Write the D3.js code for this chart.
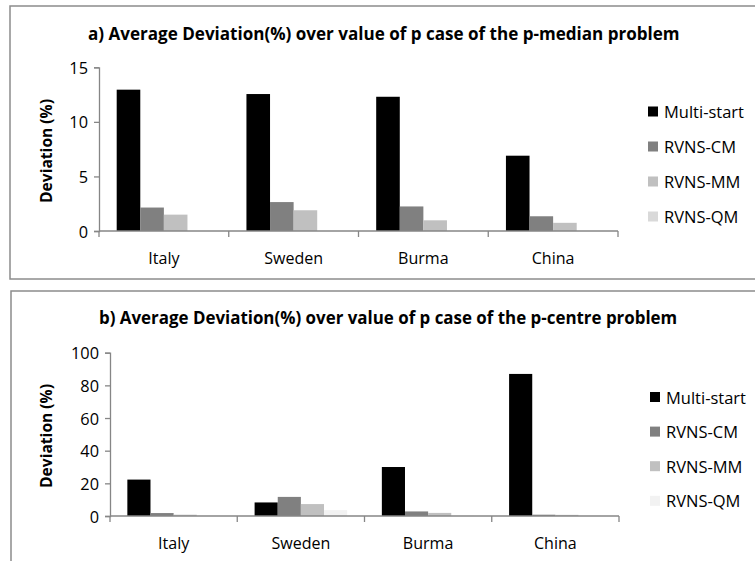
<!DOCTYPE html>
<html><head><meta charset="utf-8">
<script src="https://cdn.jsdelivr.net/npm/d3@7"></script>
<style>body{margin:0;background:#fff}svg{display:block}</style>
</head><body><svg id="c" width="755" height="561"></svg>
<script>
const categories = ["Italy", "Sweden", "Burma", "China"];
const seriesNames = ["Multi-start", "RVNS-CM", "RVNS-MM", "RVNS-QM"];
const medianValues = [
  [12.95, 12.55, 12.3, 6.9],   // Multi-start
  [2.15, 2.65, 2.25, 1.35],    // RVNS-CM
  [1.5, 1.9, 0.98, 0.75],      // RVNS-MM
  [0, 0, 0, 0]                 // RVNS-QM
];
const centreValues = [
  [22.3, 8.3, 30.0, 87.0],
  [1.8, 11.7, 2.8, 0.8],
  [0.8, 7.3, 1.9, 0.7],
  [0.2, 3.6, 0.2, 0.2]
];
const medianTicks = [0, 5, 10, 15];
const centreTicks = [0, 20, 40, 60, 80, 100];
const titleA = "a) Average Deviation(%) over value of p case of the p-median problem";
const titleB = "b) Average Deviation(%) over value of p case of the p-centre problem";

const svg = d3.select("#c");
const font = "'Open Sans', sans-serif";

function fit(str, weight, target) {
  const t = svg.append("text").attr("font-family", font).attr("font-weight", weight)
    .attr("font-size", 20).text(str);
  const w = t.node().getComputedTextLength();
  t.remove();
  return 20 * target / w;
}
const legSize = fit("Multi-start", "normal", 80);
const catSize = fit("Sweden", "normal", 59);
const tickSize = fit("100", "normal", 28);
const ylabSize = fit("Deviation  (%)", "bold", 104);

function panel(o) {
  const g = svg.append("g");
  g.append("rect").attr("x", o.box[0]).attr("y", o.box[1]).attr("width", o.box[2]).attr("height", o.box[3])
    .attr("fill", "#fff").attr("stroke", "#8c8c8c").attr("stroke-width", 1.5);
  const x = d3.scaleBand().domain(categories).range([o.x0, o.x1]).paddingInner(0).paddingOuter(0);
  const y = d3.scaleLinear().domain([0, o.max]).range([o.y0, o.y1]);
  const bw = x.bandwidth() / 5.5;
  const xs = d3.scaleBand().domain(seriesNames).range([bw * 0.75, bw * 4.75]);
  const series = seriesNames.map((n, i) => ({ name: n, color: o.colors[i], vals: o.values[i] }));
  series.forEach(s => {
    g.selectAll(null).data(categories).enter().append("rect")
      .attr("x", c => x(c) + xs(s.name))
      .attr("width", xs.bandwidth())
      .attr("y", (c, j) => y(s.vals[j]))
      .attr("height", (c, j) => y(0) - y(s.vals[j]))
      .attr("fill", s.color);
  });
  // y axis
  const ya = g.append("g").attr("transform", `translate(${o.x0},0)`)
    .call(d3.axisLeft(y).tickValues(o.ticks).tickSize(5).tickPadding(6));
  ya.select(".domain").attr("stroke", "#868686").attr("stroke-width", 1.3);
  ya.selectAll(".tick line").attr("stroke", "#868686").attr("stroke-width", 1.3);
  ya.selectAll("text").attr("font-family", font).attr("font-size", tickSize).attr("fill", "#000")
    .attr("dy", null).attr("dominant-baseline", "central");
  // x axis
  const xa = g.append("g").attr("transform", `translate(0,${o.y0})`);
  xa.append("line").attr("x1", o.x0).attr("x2", o.x1).attr("y1", 0).attr("y2", 0)
    .attr("stroke", "#868686").attr("stroke-width", 1.3);
  const bounds = categories.map(c => x(c)).concat([x(categories[categories.length - 1]) + x.bandwidth()]);
  xa.selectAll(null).data(bounds).enter().append("line")
    .attr("x1", d => d).attr("x2", d => d).attr("y1", 0).attr("y2", 6)
    .attr("stroke", "#868686").attr("stroke-width", 1.3);
  xa.selectAll(null).data(categories).enter().append("text")
    .attr("x", c => x(c) + x.bandwidth() / 2).attr("y", o.catY - o.y0)
    .attr("text-anchor", "middle").attr("dominant-baseline", "central")
    .attr("font-family", font).attr("font-size", catSize).text(c => c);
  // y label
  g.append("text").attr("transform", `translate(${o.ylab[0]},${o.ylab[1]}) rotate(-90)`)
    .attr("text-anchor", "middle").attr("dominant-baseline", "central")
    .attr("font-family", font).attr("font-weight", "bold").attr("font-size", ylabSize).text("Deviation  (%)");
  // title
  g.append("text").attr("x", o.title[0]).attr("y", o.title[1])
    .attr("dominant-baseline", "central").attr("font-family", font).attr("font-weight", "bold")
    .attr("font-size", fit(o.titleText, "bold", o.title[2])).text(o.titleText);
  // legend
  const lg = g.append("g");
  series.forEach((s, i) => {
    const cy = o.leg[1] + i * o.leg[2];
    lg.append("rect").attr("x", o.leg[0]).attr("y", cy - 5).attr("width", 10).attr("height", 10).attr("fill", s.color);
    lg.append("text").attr("x", o.leg[0] + 16).attr("y", cy).attr("dominant-baseline", "central")
      .attr("font-family", font).attr("font-size", legSize).text(s.name);
  });
}

panel({
  box: [10, 6, 750, 273], x0: 99, x1: 618, y0: 231, y1: 67.3, max: 15,
  values: medianValues, ticks: medianTicks,
  colors: ["#000000", "#808080", "#c0c0c0", "#d9d9d9"],
  catY: 258, ylab: [46, 151], title: [88, 33, 592], titleText: titleA,
  leg: [648, 111.5, 35]
});
panel({
  box: [11, 291, 750, 280], x0: 110, x1: 619, y0: 516, y1: 352.7, max: 100,
  values: centreValues, ticks: centreTicks,
  colors: ["#000000", "#808080", "#c0c0c0", "#f2f2f2"],
  catY: 543, ylab: [46, 436], title: [99, 317, 579], titleText: titleB,
  leg: [650, 397, 34.6]
});
</script></body></html>
